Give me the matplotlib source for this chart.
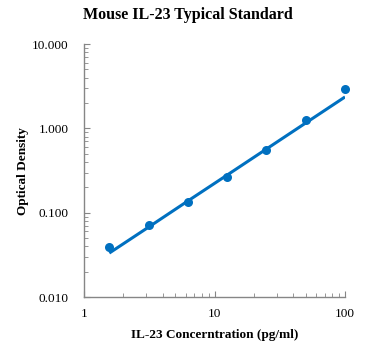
import matplotlib
matplotlib.use("Agg")
import matplotlib.pyplot as plt
from matplotlib.ticker import FixedLocator, FuncFormatter, LogLocator, NullFormatter

# standard curve data
conc = [1.5625, 3.125, 6.25, 12.5, 25, 50, 100]
od = [0.039, 0.071, 0.134, 0.265, 0.555, 1.26, 2.93]
# fitted curve
fit_od = [0.0333, 0.0676, 0.138, 0.280, 0.570, 1.16, 2.36]

x_ticks = [1, 10, 100]
y_ticks = [0.01, 0.1, 1, 10]

blue = "#0070C0"
grey = "#868686"

plt.rcParams["font.family"] = ["Liberation Serif", "DejaVu Serif"]

fig = plt.figure(figsize=(3.71, 3.55), dpi=100)
ax = fig.add_axes([0.2264, 0.163, 0.7036, 0.713])

ax.plot(conc, fit_od, color=blue, lw=2.2, solid_capstyle="butt", zorder=2)
ax.plot(conc, od, "o", color=blue, ms=6.5, mec="none", zorder=3, clip_on=False)

ax.set_xscale("log")
ax.set_yscale("log")
ax.set_xlim(1, 100)
ax.set_ylim(0.01, 10)

ax.xaxis.set_major_locator(FixedLocator(x_ticks))
ax.yaxis.set_major_locator(FixedLocator(y_ticks))
ax.xaxis.set_minor_locator(LogLocator(subs=range(2, 10)))
ax.yaxis.set_minor_locator(LogLocator(subs=range(2, 10)))
ax.xaxis.set_minor_formatter(NullFormatter())
ax.yaxis.set_minor_formatter(NullFormatter())
ax.xaxis.set_major_formatter(FuncFormatter(lambda v, p: "%g" % v))
ax.yaxis.set_major_formatter(FuncFormatter(lambda v, p: "%.3f" % v))

for s in ["top", "right"]:
    ax.spines[s].set_visible(False)
for s in ["left", "bottom"]:
    ax.spines[s].set_color(grey)
    ax.spines[s].set_linewidth(1.0)

ax.tick_params(which="both", direction="in", color=grey, labelsize=9.5)
ax.tick_params(which="major", length=4)
ax.tick_params(which="minor", length=3)
ax.tick_params(axis="x", which="both", pad=8)
ax.tick_params(axis="y", which="both", pad=11)

fig.text(0.507, 0.957, "Mouse IL-23 Typical Standard", ha="center", va="center",
         fontsize=11.5, fontweight="bold")
ax.set_xlabel("IL-23 Concerntration (pg/ml)", fontsize=9.5, fontweight="bold", labelpad=6)
ax.set_ylabel("Optical Density", fontsize=9.5, fontweight="bold", labelpad=2)

fig.savefig("out.png", dpi=100)
